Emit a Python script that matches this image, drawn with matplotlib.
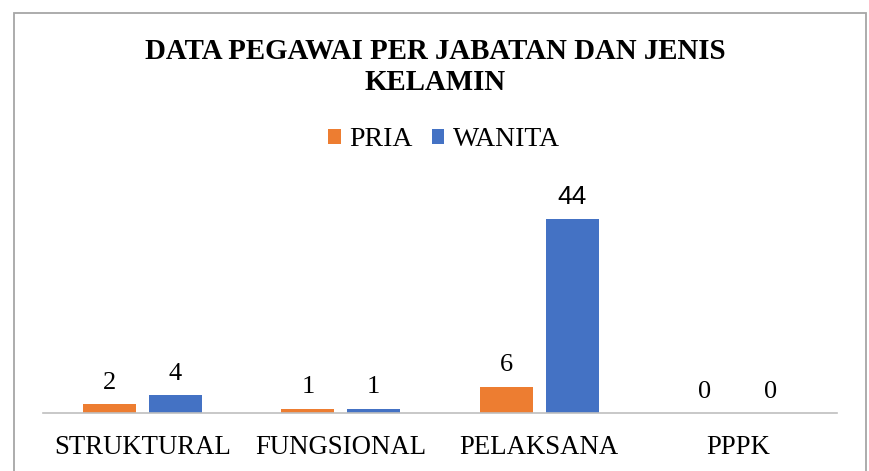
import matplotlib
matplotlib.use("Agg")
import matplotlib.pyplot as plt
from matplotlib.patches import Rectangle
import numpy as np

categories = ["STRUKTURAL", "FUNGSIONAL", "PELAKSANA", "PPPK"]
pria = [2, 1, 6, 0]
wanita = [4, 1, 44, 0]
series_names = ["PRIA", "WANITA"]
title_lines = ["DATA PEGAWAI PER JABATAN DAN JENIS", "KELAMIN"]

orange = "#ED7D31"
blue = "#4472C4"

plt.rcParams["font.family"] = ["Liberation Serif", "DejaVu Serif"]

fig = plt.figure(figsize=(8.7, 4.71), dpi=100)
W, H = 870, 471

# chart frame (bottom edge is cut off in the original)
fig.add_artist(Rectangle((14 / W, -0.1), (866 - 14) / W, 0.1 + 1 - 13 / H,
                         transform=fig.transFigure, fill=False,
                         edgecolor="#a6a6a6", linewidth=1.3, clip_on=False))

ax_l, ax_r, ax_b, ax_t = 43 / W, 837 / W, 1 - 413 / H, 1 - 170 / H
ax = fig.add_axes([ax_l, ax_b, ax_r - ax_l, ax_t - ax_b])

x = np.arange(len(categories))
w = 0.267
off = 0.166
b1 = ax.bar(x - off, pria, w, color=orange, label=series_names[0])
b2 = ax.bar(x + off, wanita, w, color=blue, label=series_names[1])

ax.set_xlim(-0.5, len(categories) - 0.5)
ax.set_ylim(0, 243 / 4.41)

for bars, vals in ((b1, pria), (b2, wanita)):
    for r, v in zip(bars, vals):
        fam = ["Liberation Sans"] if v >= 10 else ["Liberation Serif"]
        ax.annotate(str(v), (r.get_x() + r.get_width() / 2, v),
                    xytext=(0, 11), textcoords="offset points",
                    ha="center", va="baseline", fontsize=19, family=fam)

for s in ["top", "right", "left"]:
    ax.spines[s].set_visible(False)
ax.spines["bottom"].set_color("#bfbfbf")
ax.spines["bottom"].set_linewidth(1.2)
ax.set_yticks([])
ax.set_xticks(x)
ax.set_xticklabels(categories, fontsize=19.3)
ax.tick_params(axis="x", length=0, pad=16)

fig.text(0.5, 1 - 59 / H, title_lines[0], ha="center", va="baseline",
         fontsize=20.8, fontweight="bold")
fig.text(0.5, 1 - 90 / H, title_lines[1], ha="center", va="baseline",
         fontsize=20.8, fontweight="bold")

fig.legend(loc="center", bbox_to_anchor=(444 / W, 1 - 140 / H), ncol=2,
           frameon=False, fontsize=20, handlelength=0.45, handleheight=0.45,
           handletextpad=0.3, columnspacing=0.7)

fig.savefig("out.png", dpi=100)
